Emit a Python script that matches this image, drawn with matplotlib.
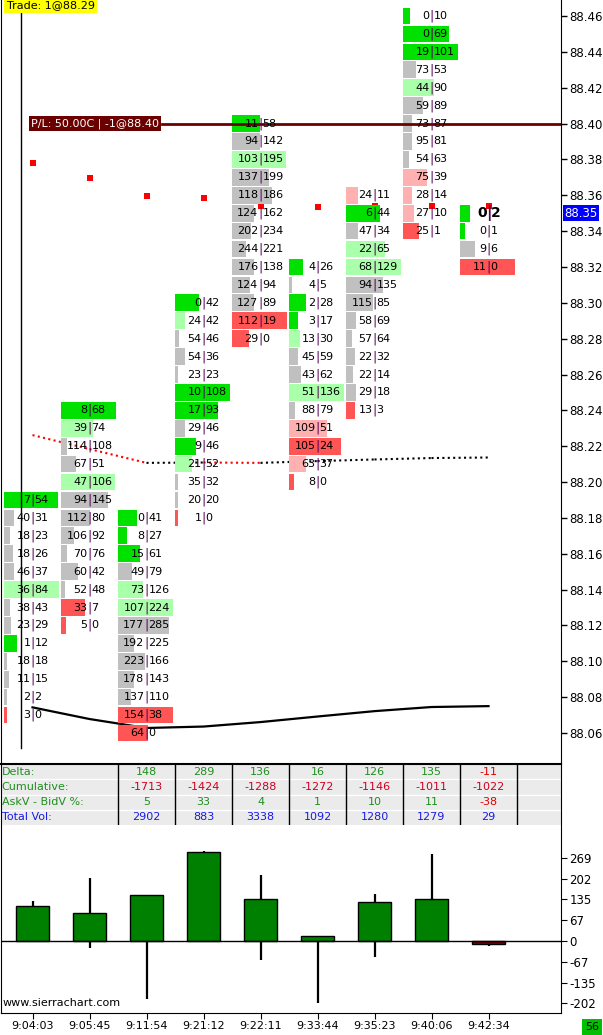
import numpy as np
import matplotlib.pyplot as plt
import matplotlib.transforms as mtrans

plt.rcParams['font.family'] = ['DejaVu Sans']

# ---- data ----
times = ['9:04:03', '9:05:45', '9:11:54', '9:21:12', '9:22:11',
         '9:33:44', '9:35:23', '9:40:06', '9:42:34']
top_price = [88.19, 88.24, 88.18, 88.30, 88.40, 88.32, 88.36, 88.46, 88.35]

bid_vol = [
    [7, 40, 18, 18, 46, 36, 38, 23, 1, 18, 11, 2, 3],
    [8, 39, 114, 67, 47, 94, 112, 106, 70, 60, 52, 33, 5],
    [0, 8, 15, 49, 73, 107, 177, 192, 223, 178, 137, 154, 64],
    [0, 24, 54, 54, 23, 10, 17, 29, 9, 21, 35, 20, 1],
    [11, 94, 103, 137, 118, 124, 202, 244, 176, 124, 127, 112, 29],
    [4, 4, 2, 3, 13, 45, 43, 51, 88, 109, 105, 63, 8],
    [24, 6, 47, 22, 68, 94, 115, 58, 57, 22, 22, 29, 13],
    [0, 0, 19, 73, 44, 59, 73, 95, 54, 75, 28, 27, 25],
    [0, 0, 9, 11],
]
ask_vol = [
    [54, 31, 23, 26, 37, 84, 43, 29, 12, 18, 15, 2, 0],
    [68, 74, 108, 51, 106, 145, 80, 92, 76, 42, 48, 7, 0],
    [41, 27, 61, 79, 126, 224, 285, 225, 166, 143, 110, 38, 0],
    [42, 42, 46, 36, 23, 108, 93, 46, 46, 52, 32, 20, 0],
    [58, 142, 195, 199, 186, 162, 234, 221, 138, 94, 89, 19, 0],
    [26, 5, 28, 17, 30, 59, 62, 136, 79, 51, 24, 37, 0],
    [11, 44, 34, 65, 129, 135, 85, 69, 64, 32, 14, 18, 3],
    [10, 69, 101, 53, 90, 89, 87, 81, 63, 39, 14, 10, 1],
    [2, 1, 6, 0],
]
# G strong ask, g ask, n neutral, r bid, R strong bid
imbalance = ['GnnnngnnGnnnR', 'GgnngnnnnnnRR', 'GGGnggnnnnnRR', 'GgnnnGGnGgnnR',
             'GngnnnnnnnnRR', 'GnGGgnngnrRrR', 'rGnggnnnnnnnR', 'GGGngnnnnrrrR', 'GGnR']

cumulative = [-1713, -1424, -1288, -1272, -1146, -1011, -1022]   # shown from bar 3
table_first = 2

delta_high = [130, 206, 148, 291, 215, 16, 153, 283, 0]
delta_low = [0, -21, -187, 0, -62, -200, -50, 0, -15]

avg_line = [88.2262, 88.2184, 88.2107, 88.2109, 88.2107, 88.2117, 88.2126, 88.2134, 88.2137]
low_line = [88.0743, 88.0678, 88.0628, 88.0636, 88.0661, 88.0692, 88.0722, 88.0745, 88.0750]
stop_dots = [88.378, 88.3696, 88.3596, 88.3585, 88.354, 88.3534, 88.354, 88.354, 88.354]

last_price = 88.35
position_price = 88.40
pl_text = 'P/L: 50.00C | -1@88.40'
trade_text = 'Trade: 1@88.29'
trade_pos = 0.30
tick = 0.01

shade_colors = {'G': '#00e100', 'g': '#aaffaa', 'n': '#c0c0c0', 'r': '#ffb0b0', 'R': '#ff5555'}

# ---- layout ----
W, H = 603, 1035
fig = plt.figure(figsize=(W / 100, H / 100), dpi=100)
xl = (-3 / 57, 557 / 57)

ax = fig.add_axes([1 / W, (H - 764) / H, 560 / W, 764 / H])
tab = fig.add_axes([1 / W, (H - 825) / H, 560 / W, 61 / H])
low = fig.add_axes([1 / W, (H - 1013) / H, 560 / W, 187 / H])
for a in (ax, tab, low):
    a.set_xlim(*xl)

ax.set_ylim(88.04271, 88.46893)
centers = np.arange(len(times)) + 0.5

# footprint cells
for i in range(len(times)):
    bids = np.array(bid_vol[i])
    asks = np.array(ask_vol[i])
    prices = top_price[i] - tick * np.arange(len(bids))
    d = np.abs(asks - bids)
    widths = np.maximum(d / d.max() * 0.965, 0.05)
    cols = [shade_colors[c] for c in imbalance[i]]
    ax.barh(prices, widths, height=tick * 0.93, left=i, color=cols, zorder=2)
    last = i == len(times) - 1
    for p, b, a_ in zip(prices, bids, asks):
        big = last and abs(p - last_price) < 1e-6
        fs = 10 if big else 8
        fw = 'bold' if big else 'normal'
        ax.text(i + 0.465, p, str(b), ha='right', va='center', fontsize=fs,
                fontweight=fw, zorder=4)
        ax.text(i + 0.5, p, '|', ha='center', va='center', fontsize=fs + 1,
                color='#5a005a', fontweight=fw, zorder=4)
        ax.text(i + 0.535, p, str(a_), ha='left', va='center', fontsize=fs,
                fontweight=fw, zorder=4)

# indicator lines
ax.plot(centers, low_line, color='black', lw=1.6, zorder=1.8)
for k in range(len(avg_line) - 1):
    c = 'red' if avg_line[k + 1] < avg_line[k] else 'black'
    ax.plot(centers[k:k + 2], avg_line[k:k + 2], color=c, lw=1.5,
            linestyle=(0, (1, 1.6)), zorder=1.8)
ax.scatter(centers, stop_dots, marker='s', s=20, color='red', lw=0, zorder=1.7)

# position line and labels
ax.axhline(position_price, xmin=0.2875, xmax=1, color='#6b0000', lw=2, zorder=3)
ax.text(0.47, position_price, pl_text, ha='left', va='center', fontsize=8,
        color='white', zorder=5,
        bbox=dict(boxstyle='square,pad=0.2', fc='#6b0000', ec='none'))
ax.axvline(trade_pos, ymin=0.021, ymax=1, color='black', lw=1, zorder=3)
ax.text(0.01, 0.9995, trade_text, transform=ax.transAxes, ha='left', va='top',
        fontsize=8, zorder=6,
        bbox=dict(boxstyle='square,pad=0.25', fc='#ffff00', ec='none'))

# price axis
ax.yaxis.tick_right()
ax.set_yticks(np.round(np.arange(88.06, 88.461, 0.02), 2))
ax.yaxis.set_major_formatter(plt.FormatStrFormatter('%.2f'))
ax.tick_params(axis='y', length=4, width=1, labelsize=8.5, pad=2)
ax.set_xticks([])
for s in ('top', 'bottom'):
    ax.spines[s].set_visible(False)
blend = mtrans.blended_transform_factory(ax.transAxes, ax.transData)
ax.text(1.006, last_price, f'{last_price:.2f}', transform=blend, ha='left',
        va='center', fontsize=8.5, color='white', zorder=6, clip_on=False,
        bbox=dict(boxstyle='square,pad=0.15', fc='#0000ff', ec='none'))

# ---- table ----
tab.set_facecolor('#ebebeb')
tab.set_ylim(4, 0)
tab.set_xticks([])
tab.set_yticks([])
tab.spines['bottom'].set_visible(False)
tab.spines['top'].set_linewidth(1.5)
for r in (1, 2, 3):
    tab.axhline(r, color='white', lw=1)
for x in range(table_first, len(times) + 1):
    tab.axvline(x, color='black', lw=1)

green, red, blue = '#1f8f1f', '#e00000', '#1a1ae6'
labels = ['Delta:', 'Cumulative:', 'AskV - BidV %:', 'Total Vol:']
lab_cols = [green, green, green, blue]
for r, (lab, c) in enumerate(zip(labels, lab_cols)):
    tab.text(xl[0] + 0.01, r + 0.5, lab, ha='left', va='center', fontsize=8, color=c)

deltas = [sum(a) - sum(b) for a, b in zip(ask_vol, bid_vol)]
totals = [sum(a) + sum(b) for a, b in zip(ask_vol, bid_vol)]
for j, i in enumerate(range(table_first, len(times))):
    dl = deltas[i]
    pct = round(dl / totals[i] * 100)
    tab.text(i + 0.5, 0.5, str(dl), ha='center', va='center', fontsize=8,
             color=green if dl >= 0 else red)
    tab.text(i + 0.5, 1.5, str(cumulative[j]), ha='center', va='center', fontsize=8,
             color='#cc0022' if cumulative[j] < 0 else green)
    tab.text(i + 0.5, 2.5, str(pct), ha='center', va='center', fontsize=8,
             color=green if pct >= 0 else red)
    tab.text(i + 0.5, 3.5, str(totals[i]), ha='center', va='center', fontsize=8,
             color=blue)

# ---- delta bars ----
low.set_ylim(-233, 373)
low.vlines(centers, delta_low, delta_high, color='black', lw=1.6, zorder=1)
bar_cols = ['#008000' if d >= 0 else '#800000' for d in deltas]
low.bar(centers, deltas, width=0.58, color=bar_cols, edgecolor='black', lw=1, zorder=2)
low.axhline(0, color='black', lw=1, zorder=3)
low.yaxis.tick_right()
yt = [-202, -135, -67, 0, 67, 135, 202, 269]
low.set_yticks(yt)
low.set_yticklabels([str(v) for v in yt])
low.tick_params(axis='y', length=4, labelsize=8.5, pad=2)
low.set_xticks(centers)
low.set_xticklabels(times)
low.tick_params(axis='x', length=4, labelsize=8, pad=2)
low.spines['top'].set_visible(False)
low.text(0.003, 0.025, 'www.sierrachart.com', transform=low.transAxes, ha='left',
         va='bottom', fontsize=8)
fig.text(592 / W, 8 / H, '56', ha='center', va='center', fontsize=8,
         bbox=dict(boxstyle='square,pad=0.3', fc='#00c000', ec='none'))

fig.savefig('out.png', dpi=100)
